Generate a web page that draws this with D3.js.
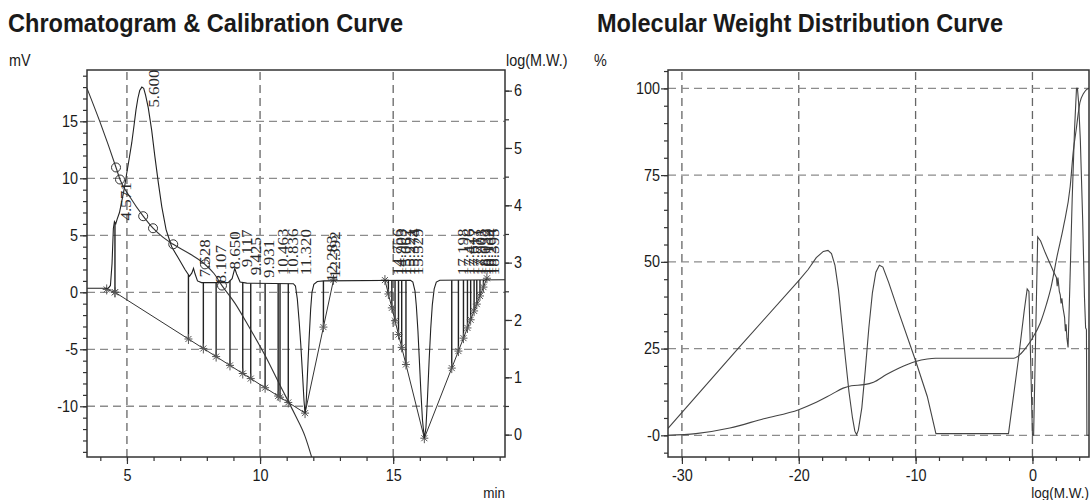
<!DOCTYPE html>
<html>
<head>
<meta charset="utf-8">
<script src="https://cdn.jsdelivr.net/npm/d3@7"></script>
<style>
  body { margin: 0; background: #fff; }
  svg text { font-family: "Liberation Sans", Arial, sans-serif; fill: #1a1a1a; }
</style>
</head>
<body>
<script>
// chromatogram signal, [min, mV]
const signal = [
  [3.5,0.35],[4.30,0.35],[4.38,0.6],[4.44,2.5],[4.49,5.6],[4.53,6.2],[4.58,6.0],[4.63,6.4],
  [4.72,7.0],[4.80,7.9],[4.90,9.1],[4.99,10.4],[5.09,11.8],[5.18,13.1],[5.27,14.7],[5.34,16.0],
  [5.41,17.0],[5.48,17.7],[5.56,18.0],[5.63,17.9],[5.70,17.3],[5.80,16.2],[5.93,14.2],[6.05,11.9],
  [6.18,9.6],[6.31,7.5],[6.47,5.5],[6.68,4.0],[6.93,3.0],[7.18,2.0],[7.35,1.4],[7.44,1.7],
  [7.50,2.1],[7.56,1.6],[7.65,1.0],[7.80,0.85],[8.80,0.85],[8.95,1.2],[9.05,2.1],[9.12,1.6],
  [9.25,0.9],[9.50,0.8],[11.25,0.75],[11.33,0.55],[11.40,-0.6],[11.47,-2.6],[11.53,-4.6],
  [11.60,-7.4],[11.65,-9.5],[11.69,-10.6],[11.73,-9.8],[11.78,-7.2],[11.84,-4.2],[11.90,-1.5],
  [11.95,0.0],[12.02,0.7],[12.15,0.95],[12.40,1.0],[15.65,1.05],[15.74,0.9],[15.82,0.1],
  [15.87,-1.2],[15.93,-3.4],[15.98,-5.8],[16.04,-8.7],[16.10,-11.2],[16.17,-12.8],[16.23,-11.9],
  [16.29,-9.2],[16.35,-6.0],[16.41,-3.2],[16.47,-1.1],[16.54,0.3],[16.62,0.9],[16.75,1.05],[19.2,1.1]
];

// calibration curve, [min, log(M.W.)]
const calibCurve = [
  [3.50,6.04],[3.99,5.45],[4.59,4.66],[4.74,4.45],[5.12,4.14],[5.61,3.81],[5.98,3.60],
  [6.36,3.44],[6.74,3.32],[7.37,3.15],[7.93,2.97],[8.27,2.81],[8.57,2.60],[9.06,2.29],
  [9.62,1.85],[10.19,1.38],[10.75,0.86],[11.31,0.35],[11.69,-0.03],[11.95,-0.41]
];
const calibPoints = [[4.59,4.66],[4.74,4.45],[5.61,3.81],[5.98,3.60],[6.74,3.32],[7.93,2.97],[8.57,2.60]];

// integration baselines, [min, mV]
const baselines = [
  [[4.24,0.25],[4.55,0.0]],
  [[4.55,0.0],[11.69,-10.6]],
  [[11.69,-10.6],[12.76,1.1]],
  [[14.69,1.07],[16.17,-12.8]],
  [[16.17,-12.8],[18.52,1.23]]
];
const dropTimes = [4.24,4.55,7.31,7.87,8.35,8.87,9.35,9.65,10.19,10.68,10.75,11.06,12.38,
  14.82,14.95,15.07,15.20,15.32,15.48,17.20,17.45,17.64,17.79,17.91,18.04,18.14,18.26,18.39];

// retention time labels and the signal height they start from (mV)
const peakNames = ["4.571","5.600","7.528","8.107","8.650","9.117","9.425","9.931","10.463","10.836",
  "11.320","12.283","12.392","14.756","14.903","15.062","15.221","15.374","15.529",
  "17.198","17.426","17.617","17.771","17.903","18.032","18.139","18.264","18.395"];
const peakLabelMv = [6.3,16.2,1.3,0.8,2.0,2.2,1.5,1.25,1.5,1.5,1.5,0.9,1.25,
  1.5,1.5,1.5,1.5,1.5,1.5,1.5,1.5,1.5,1.5,1.5,1.5,1.5,1.5,1.5];

// molecular weight distribution, [log(M.W.), %]
const distCurve = [
  [-31.19,2.0],[-25.2,25],[-20,44.6],[-19.2,47.8],[-18.5,51.2],[-17.9,53.0],[-17.5,53.3],[-17.2,52.4],
  [-16.9,49],[-16.6,42],[-16.3,32],[-16.0,22],[-15.7,12.5],[-15.4,5],[-15.2,1.2],[-15.05,0.2],
  [-14.9,1.5],[-14.6,8],[-14.3,19],[-14.0,31],[-13.7,41],[-13.4,47],[-13.1,49],[-12.8,48.5],
  [-12.3,44],[-11.5,36],[-10,21.5],[-9,11.2],[-8.26,0.5],[-2.05,0.5],[-1.2,22],[-0.7,36],
  [-0.45,42.2],[-0.3,41.5],[-0.15,21],[0,0],[0.1,0],[0.45,57.2],[0.7,56],[1.1,52.6],[1.8,47.2],
  [2.05,45.5],[2.12,43],[2.18,45.5],[2.3,41.5],[2.38,40.5],[2.45,38],[2.52,39.5],[2.6,37],
  [2.75,34],[2.82,30],[2.88,32],[2.95,28],[3.05,25.3],[3.2,43],[3.4,68],[3.6,88],[3.77,100],
  [3.85,100],[3.95,96],[4.1,85],[4.3,62],[4.45,40],[4.55,31],[4.62,30.5],[4.66,0],[4.84,0]
];
const cumCurve = [
  [-31.19,0],[-28.8,0.5],[-25.9,2.1],[-23,4.8],[-20,7.4],[-18.5,9.5],[-17.2,11.8],[-16.2,13.6],
  [-15.5,14.3],[-14.4,14.6],[-13.6,15.3],[-12.5,17.5],[-11.4,19.4],[-10,21.3],[-9,22.0],[-8.3,22.2],
  [-1.6,22.2],[-1.1,23.2],[-0.5,25.5],[0,28],[0.66,32.3],[1.2,37.8],[1.6,42.8],[2.1,51.5],
  [2.66,60.2],[3.23,71.7],[3.5,82],[3.74,88],[3.95,93.5],[4.07,96],[4.37,98.5],[4.6,99.6],[4.84,100]
];

// axis ticks
const minMajor = [5, 10, 15];
const mvMajor = [-10, -5, 0, 5, 10, 15];
const logMajor = [0, 1, 2, 3, 4, 5, 6];
const mwMajor = [-30, -20, -10, 0];
const pctMajor = [0, 25, 50, 75, 100];

const SX = 0.9; // the picture is a little narrower than the fonts

const svg = d3.select("body").append("svg")
  .attr("width", 1091)
  .attr("height", 500);

const xL = d3.scaleLinear([3.5, 19.2], [87, 505]);
const yMv = d3.scaleLinear([-14.45, 19.5], [457, 70]);
const yLog = d3.scaleLinear([-0.39, 6.36], [457, 70]);

const xR = d3.scaleLinear([-31.19, 4.84], [668, 1089]);
const yP = d3.scaleLinear([-6.25, 105.3], [457, 70]);

function txt(x, y, s, size, anchor, bold) {
  return svg.append("text")
    .attr("transform", `translate(${x},${y}) scale(${SX},1)`)
    .attr("text-anchor", anchor || "start")
    .style("font-size", size + "px")
    .style("font-weight", bold ? "bold" : null)
    .text(s);
}

// titles
svg.append("text").attr("x", 8).attr("y", 32)
  .attr("textLength", 395).attr("lengthAdjust", "spacingAndGlyphs")
  .style("font-size", "26px").style("font-weight", "bold")
  .text("Chromatogram & Calibration Curve");
svg.append("text").attr("x", 597).attr("y", 32)
  .attr("textLength", 406).attr("lengthAdjust", "spacingAndGlyphs")
  .style("font-size", "26px").style("font-weight", "bold")
  .text("Molecular Weight Distribution Curve");

txt(9, 66, "mV", 16);
txt(506, 66, "log(M.W.)", 16);
txt(505, 498, "min", 15, "end");
txt(594, 66, "%", 16);
txt(1089, 498, "log(M.W.)", 15, "end");

function clip(id, x0, x1, y0, y1) {
  svg.append("clipPath").attr("id", id).append("rect")
    .attr("x", x0).attr("y", y0).attr("width", x1 - x0).attr("height", y1 - y0);
}
clip("cl", 87, 505, 70, 457);
clip("cr", 668, 1089, 70, 457);

function grid(xs, ys, xScale, yScale) {
  const g = svg.append("g").attr("stroke-width", 1.3).attr("stroke-dasharray", "8,5");
  const [x0, x1] = xScale.range(), [y0, y1] = yScale.range();
  g.selectAll(".v").data(xs).enter().append("line")
    .attr("stroke", "#666")
    .attr("x1", d => xScale(d)).attr("x2", d => xScale(d)).attr("y1", y0).attr("y2", y1);
  g.selectAll(".h").data(ys).enter().append("line")
    .attr("stroke", "#8c8c8c")
    .attr("x1", x0).attr("x2", x1).attr("y1", d => yScale(d)).attr("y2", d => yScale(d));
}
grid(minMajor, mvMajor, xL, yMv);
grid(mwMajor, pctMajor, xR, yP);

// ---- left chart ----
const gl = svg.append("g").attr("clip-path", "url(#cl)");
const lineMv = d3.line().x(d => xL(d[0])).y(d => yMv(d[1]));
const lineLog = d3.line().x(d => xL(d[0])).y(d => yLog(d[1])).curve(d3.curveMonotoneX);

function valueAt(pts, t) {
  const i = d3.bisector(d => d[0]).left(pts, t);
  if (i <= 0) return pts[0][1];
  if (i >= pts.length) return pts[pts.length - 1][1];
  const a = pts[i - 1], b = pts[i];
  return a[1] + (b[1] - a[1]) * (t - a[0]) / (b[0] - a[0]);
}
function baseAt(t) {
  const seg = baselines.find(s => t >= s[0][0] && t <= s[1][0]);
  return valueAt(seg, t);
}

gl.selectAll(".base").data(baselines).enter().append("path")
  .attr("d", lineMv).attr("fill", "none").attr("stroke", "#333").attr("stroke-width", 1);

gl.selectAll(".drop").data(dropTimes).enter().append("line")
  .attr("x1", d => xL(d)).attr("x2", d => xL(d))
  .attr("y1", d => yMv(valueAt(signal, d)))
  .attr("y2", d => yMv(baseAt(d)))
  .attr("stroke", "#222").attr("stroke-width", 1.4);

const feet = dropTimes.map(t => [t, baseAt(t)])
  .concat(baselines.map(s => s[1]), [baselines[3][0]]);
gl.selectAll(".mark").data(feet).enter().append("path")
  .attr("transform", d => `translate(${xL(d[0])},${yMv(d[1])})`)
  .attr("d", "M-4,0H4M0,-5V5M-3,-3L3,3M-3,3L3,-3")
  .attr("stroke", "#555").attr("stroke-width", 1).attr("fill", "none");

gl.append("path").datum(signal)
  .attr("d", lineMv).attr("fill", "none").attr("stroke", "#222").attr("stroke-width", 1.1);

gl.append("path").datum(calibCurve)
  .attr("d", lineLog).attr("fill", "none").attr("stroke", "#333").attr("stroke-width", 1.1);

gl.selectAll(".cal").data(calibPoints).enter().append("circle")
  .attr("cx", d => xL(d[0])).attr("cy", d => yLog(d[1])).attr("r", 4.5)
  .attr("fill", "none").attr("stroke", "#333").attr("stroke-width", 1);

svg.append("g").selectAll("text").data(peakNames).enter().append("text")
  .attr("transform", (d, i) => `translate(${xL(+d) + 10.5},${yMv(peakLabelMv[i])}) scale(${SX},1) rotate(-90)`)
  .attr("dy", "0.35em")
  .style("font-family", '"Liberation Serif", "Times New Roman", serif')
  .style("font-size", "17px")
  .style("fill", "#2a2a2a")
  .text(d => d);

// ---- right chart ----
const gr = svg.append("g").attr("clip-path", "url(#cr)");
const lineP = d3.line().x(d => xR(d[0])).y(d => yP(d[1]));
gr.append("path").datum(cumCurve).attr("d", lineP.curve(d3.curveMonotoneX))
  .attr("fill", "none").attr("stroke", "#444").attr("stroke-width", 1.1);
gr.append("path").datum(distCurve).attr("d", d3.line().x(d => xR(d[0])).y(d => yP(d[1])))
  .attr("fill", "none").attr("stroke", "#444").attr("stroke-width", 1.1);

// frames
svg.append("rect").attr("x", 87).attr("y", 70).attr("width", 418).attr("height", 387)
  .attr("fill", "none").attr("stroke", "#333").attr("stroke-width", 1.5);
svg.append("rect").attr("x", 668).attr("y", 70).attr("width", 421).attr("height", 387)
  .attr("fill", "none").attr("stroke", "#333").attr("stroke-width", 1.5);

// axes
function axis(tx, ty, make, scale, minor, major, fmt, pad) {
  const g = svg.append("g").attr("transform", `translate(${tx},${ty})`);
  g.append("g").call(make(scale).tickValues(minor).tickSize(4).tickFormat(""));
  g.append("g").call(make(scale).tickValues(major).tickSize(7).tickPadding(pad).tickFormat(fmt));
  g.selectAll(".domain").remove();
  g.selectAll("g").attr("font-family", null).attr("font-size", null);
  g.selectAll(".tick line").attr("stroke", "#333").attr("stroke-width", 1.2);
  g.selectAll(".tick text").attr("transform", `scale(${SX},1)`).style("font-size", "16px").attr("fill", null);
}
axis(0, 457, d3.axisBottom, xL, d3.range(4, 20), minMajor, d => d, 6);
axis(87, 0, d3.axisLeft, yMv, d3.range(-14, 20), mvMajor, d => d, 3);
axis(505, 0, d3.axisRight, yLog, d3.range(0, 6.5, 0.5), logMajor, d => d, 3);
axis(0, 457, d3.axisBottom, xR, d3.range(-30, 5, 2), mwMajor, d => d, 6);
axis(668, 0, d3.axisLeft, yP, d3.range(-5, 106, 5), pctMajor, d => d === 0 ? "-0" : d, 2);
</script>
</body>
</html>
